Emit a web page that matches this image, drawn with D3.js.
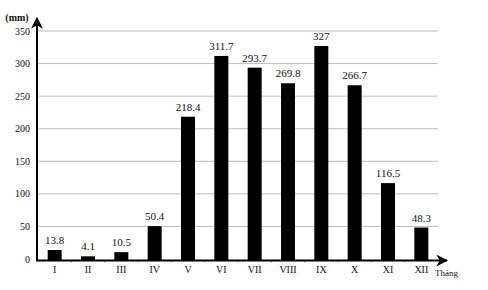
<!DOCTYPE html>
<html>
<head>
<meta charset="utf-8">
<script src="https://cdn.jsdelivr.net/npm/d3@7"></script>
<style>
  body { margin: 0; background: #fff; }
  text { font-family: "Liberation Serif", "DejaVu Serif", serif; fill: #111; }
</style>
</head>
<body>
<svg id="chart" width="488" height="290"></svg>
<script>
// data
var months = ["I","II","III","IV","V","VI","VII","VIII","IX","X","XI","XII"];
var rainfall = [13.8, 4.1, 10.5, 50.4, 218.4, 311.7, 293.7, 269.8, 327, 266.7, 116.5, 48.3];
var yTicks = [0, 50, 100, 150, 200, 250, 300, 350];

var svg = d3.select("#chart");

var x0 = 37, x1 = 438, yBase = 259, yTop = 31;

var xScale = d3.scaleBand()
    .domain(months)
    .range([x0 + 1, x1])
    .paddingInner(0.58)
    .paddingOuter(0.29);

var yScale = d3.scaleLinear()
    .domain([0, 350])
    .range([yBase, yTop]);

// gridlines
svg.append("g")
  .selectAll("line")
  .data(yTicks.slice(1))
  .enter().append("line")
    .attr("x1", x0)
    .attr("x2", x1)
    .attr("y1", function(d) { return yScale(d); })
    .attr("y2", function(d) { return yScale(d); })
    .attr("stroke", "#bdbdbd")
    .attr("stroke-width", 1);

// y tick labels
svg.append("g")
  .selectAll("text")
  .data(yTicks)
  .enter().append("text")
    .attr("x", x0 - 7)
    .attr("y", function(d) { return yScale(d); })
    .attr("dy", "0.35em")
    .attr("text-anchor", "end")
    .style("font-size", "10px")
    .text(function(d) { return d; });

// bars
svg.append("g")
  .selectAll("rect")
  .data(rainfall)
  .enter().append("rect")
    .attr("x", function(d, i) { return xScale(months[i]); })
    .attr("y", function(d) { return yScale(d); })
    .attr("width", xScale.bandwidth())
    .attr("height", function(d) { return yBase + 1 - yScale(d); })
    .attr("fill", "#000");

// value labels
svg.append("g")
  .selectAll("text")
  .data(rainfall)
  .enter().append("text")
    .attr("x", function(d, i) { return xScale(months[i]) + xScale.bandwidth() / 2; })
    .attr("y", function(d) { return yScale(d) - 6; })
    .attr("text-anchor", "middle")
    .style("font-size", "11px")
    .text(function(d) { return d; });

// small ticks between categories
svg.append("g")
  .selectAll("line")
  .data(months.slice(1))
  .enter().append("line")
    .attr("x1", function(d) { return xScale(d) - xScale.step() * xScale.paddingInner() / 2; })
    .attr("x2", function(d) { return xScale(d) - xScale.step() * xScale.paddingInner() / 2; })
    .attr("y1", yBase + 1)
    .attr("y2", yBase + 4)
    .attr("stroke", "#bbb")
    .attr("stroke-width", 1);

// x labels
svg.append("g")
  .selectAll("text")
  .data(months)
  .enter().append("text")
    .attr("x", function(d) { return xScale(d) + xScale.bandwidth() / 2; })
    .attr("y", 273)
    .attr("text-anchor", "middle")
    .style("font-size", "10px")
    .text(function(d) { return d; });

// axes with arrows
svg.append("defs").append("marker")
    .attr("id", "arrow")
    .attr("viewBox", "0 0 10 10")
    .attr("refX", 9)
    .attr("refY", 5)
    .attr("markerWidth", 6)
    .attr("markerHeight", 6)
    .attr("orient", "auto")
  .append("path")
    .attr("d", "M0,0 L10,5 L0,10 L3,5 Z")
    .attr("fill", "#000");

svg.append("line")
    .attr("x1", x0)
    .attr("x2", x0)
    .attr("y1", yBase + 2)
    .attr("y2", 18)
    .attr("stroke", "#000")
    .attr("stroke-width", 2)
    .attr("marker-end", "url(#arrow)");

svg.append("line")
    .attr("x1", x0 - 1)
    .attr("x2", 447)
    .attr("y1", yBase + 1.5)
    .attr("y2", yBase + 1.5)
    .attr("stroke", "#000")
    .attr("stroke-width", 2)
    .attr("marker-end", "url(#arrow)");

// axis titles
svg.append("text")
    .attr("x", 17)
    .attr("y", 21)
    .attr("text-anchor", "middle")
    .style("font-size", "10px")
    .style("font-weight", "bold")
    .text("(mm)");

svg.append("text")
    .attr("x", 435)
    .attr("y", 276)
    .style("font-size", "9px")
    .text("Tháng");
</script>
</body>
</html>
